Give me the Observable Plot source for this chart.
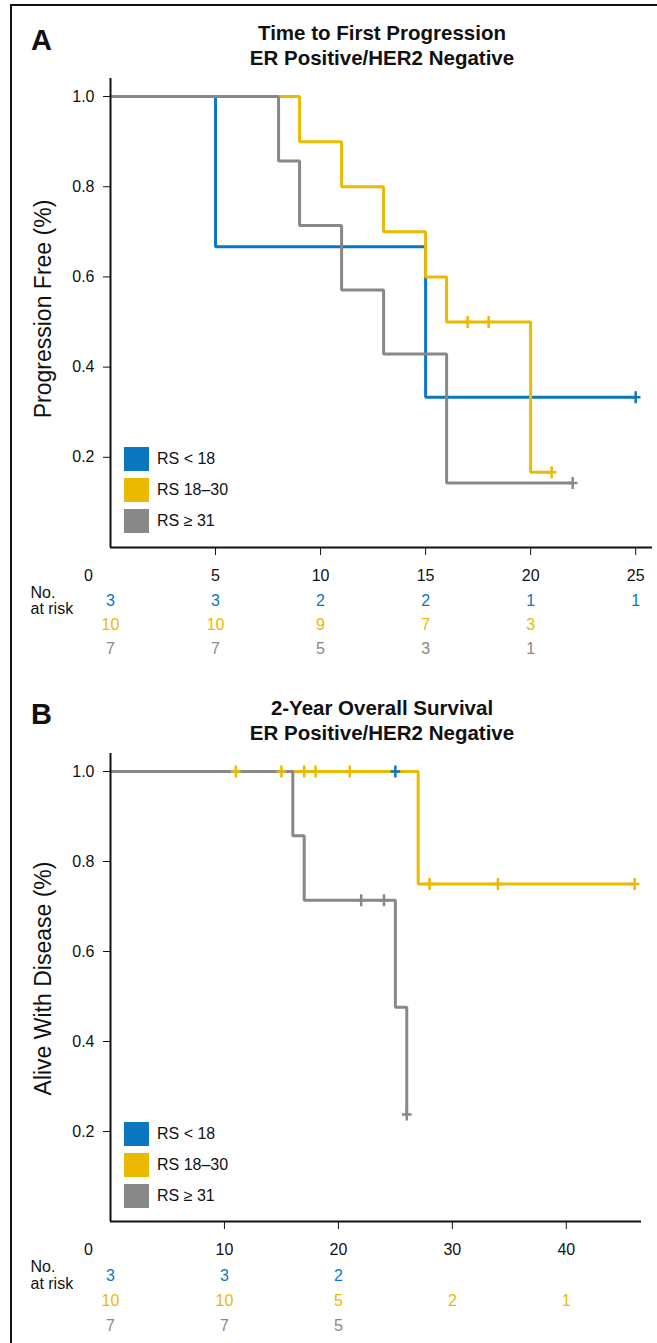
<!DOCTYPE html>
<html>
<head>
<meta charset="utf-8">
<script src="https://cdn.jsdelivr.net/npm/d3@7"></script>
<script src="https://cdn.jsdelivr.net/npm/@observablehq/plot@0.6"></script>
<style>
  body { margin: 0; background: #fff; }
  #root { position: relative; width: 657px; height: 1343px; overflow: hidden; font-family: "Liberation Sans", Arial, Helvetica, sans-serif; color: #111; }
  .frame { position: absolute; left: 10px; top: 4px; right: -10px; bottom: -10px; border-top: 2px solid #111; border-left: 2px solid #111; }
  .panel-letter { position: absolute; font-weight: bold; font-size: 29px; line-height: 29px; }
  .title { position: absolute; left: 132px; width: 500px; text-align: center; font-weight: bold; font-size: 20.5px; line-height: 25px; }
  .chart { position: absolute; left: 0; }
  .legend { position: absolute; left: 124px; font-size: 16px; }
  .legend .item { position: absolute; left: 0; height: 24px; white-space: nowrap; }
  .legend .sw { position: absolute; left: 0; top: 0; width: 25px; height: 24px; }
  .legend .lab { position: absolute; left: 33px; top: 0; line-height: 24px; }
</style>
</head>
<body>
<div id="root">
  <div class="frame"></div>
  <div class="panel-letter" style="left:31px;top:26px;">A</div>
  <div class="title" style="top:20px;">Time to First Progression<br>ER Positive/HER2 Negative</div>
  <div class="chart" id="chartA" style="top:70px;"></div>
  <div class="legend" id="legendA" style="top:447px;"></div>
  <div class="panel-letter" style="left:31px;top:700px;">B</div>
  <div class="title" style="top:695px;">2-Year Overall Survival<br>ER Positive/HER2 Negative</div>
  <div class="chart" id="chartB" style="top:740px;"></div>
  <div class="legend" id="legendB" style="top:1122px;"></div>
</div>
<script>
// ---------- shared ----------
const groups = ["RS < 18", "RS 18–30", "RS ≥ 31"];
const colors = ["#0a77c0", "#ebba00", "#888888"];
const yTicks = [0.2, 0.4, 0.6, 0.8, 1.0];

// ---------- Panel A: Time to First Progression ----------
const aBlueTime = [0, 5, 15, 25];
const aBlueSurv = [1, 0.667, 0.333, 0.333];
const aYellowTime = [0, 9, 11, 13, 15, 16, 20, 21];
const aYellowSurv = [1, 0.9, 0.8, 0.7, 0.6, 0.5, 0.167, 0.167];
const aGrayTime = [0, 8, 9, 11, 13, 16, 22];
const aGraySurv = [1, 0.857, 0.714, 0.571, 0.429, 0.143, 0.143];
const aBlueCensorTime = [25];
const aBlueCensorSurv = [0.333];
const aYellowCensorTime = [17, 18, 21];
const aYellowCensorSurv = [0.5, 0.5, 0.167];
const aGrayCensorTime = [22];
const aGrayCensorSurv = [0.143];
const aXTicks = [0, 5, 10, 15, 20, 25];
const aRiskBlue = [3, 3, 2, 2, 1, 1];
const aRiskYellow = [10, 10, 9, 7, 3, null];
const aRiskGray = [7, 7, 5, 3, 1, null];

// ---------- Panel B: 2-Year Overall Survival ----------
const bBlueTime = [0, 25];
const bBlueSurv = [1, 1];
const bYellowTime = [0, 27, 46];
const bYellowSurv = [1, 0.75, 0.75];
const bGrayTime = [0, 16, 17, 25, 26];
const bGraySurv = [1, 0.857, 0.714, 0.476, 0.238];
const bBlueCensorTime = [25];
const bBlueCensorSurv = [1];
const bYellowCensorTime = [11, 15, 17, 18, 21, 28, 34, 46];
const bYellowCensorSurv = [1, 1, 1, 1, 1, 0.75, 0.75, 0.75];
const bGrayCensorTime = [22, 24, 26];
const bGrayCensorSurv = [0.714, 0.714, 0.238];
const bXTicks = [0, 10, 20, 30, 40];
const bRiskBlue = [3, 3, 2, null, null];
const bRiskYellow = [10, 10, 5, 2, 1];
const bRiskGray = [7, 7, 5, null, null];

const zip = (t, s, g) => t.map((x, i) => ({time: x, surv: s[i], group: g}));
const risk = (ticks, vals, g) => ticks.map((x, i) => ({time: x, n: vals[i], group: g})).filter(d => d.n != null);

// censor mark: a small "+" (vertical arm longer than horizontal)
const censorSymbol = {
  draw(context, size) {
    const r = Math.sqrt(size / Math.PI);
    context.moveTo(0, -r);
    context.lineTo(0, r);
    context.moveTo(-r * 0.8, 0);
    context.lineTo(r * 0.8, 0);
  }
};

const FONT = '"Liberation Sans", Arial, Helvetica, sans-serif';

function chart(cfg) {
  const lines = cfg.series.map((s, i) => zip(s[0], s[1], groups[i]));
  const censors = cfg.censors.map((s, i) => zip(s[0], s[1], groups[i]));
  const risks = cfg.risk.map((r, i) => risk(cfg.xTicks, r, groups[i]));
  const marks = [];
  lines.forEach((d, i) => marks.push(Plot.line(d, {x: "time", y: "surv", curve: "step-after", stroke: colors[i], strokeWidth: 3, strokeLinejoin: "miter", strokeLinecap: "butt"})));
  censors.forEach((d, i) => marks.push(Plot.dot(d, {x: "time", y: "surv", symbol: censorSymbol, r: 6, stroke: colors[i], strokeWidth: 2.5, fill: "none"})));
  // axis lines
  marks.push(Plot.ruleY([0], {stroke: "#111", strokeWidth: 2}));
  marks.push(Plot.ruleX([0], {stroke: "#111", strokeWidth: 2}));
  marks.push(Plot.axisY({ticks: yTicks, tickFormat: d3.format(".1f"), tickSize: 7, tickPadding: 9, fontSize: 16, label: null, stroke: "#111", fill: "#111"}));
  marks.push(Plot.axisX({ticks: cfg.xTicks.filter(t => t > 0), tickSize: 8, tickFormat: () => "", label: null, stroke: "#111"}));
  // tick labels
  const common = {frameAnchor: "bottom", lineAnchor: "middle", fontSize: 16};
  marks.push(Plot.text(cfg.xTicks.filter(t => t > 0), {...common, x: d => d, dy: cfg.dy.label, textAnchor: "middle", fill: "#111"}));
  marks.push(Plot.text([0], {...common, x: d => d, dy: cfg.dy.label, dx: -22, textAnchor: "middle", fill: "#111"}));
  // at risk header
  marks.push(Plot.text(["No."], {...common, x: () => 0, dy: cfg.dy.no, dx: -80, textAnchor: "start", fill: "#111"}));
  marks.push(Plot.text(["at risk"], {...common, x: () => 0, dy: cfg.dy.atrisk, dx: -80, textAnchor: "start", fill: "#111"}));
  risks.forEach((d, i) => marks.push(Plot.text(d, {...common, x: "time", text: "n", dy: cfg.dy.rows[i], textAnchor: "middle", fill: colors[i]})));
  // y title
  marks.push(Plot.text([cfg.yTitle], {frameAnchor: "left", textAnchor: "middle", lineAnchor: "middle", rotate: -90, dx: -67, dy: cfg.titleDy, fontSize: 23, fill: "#111"}));
  return Plot.plot({
    width: 657,
    height: cfg.height,
    marginLeft: 110,
    marginRight: cfg.marginRight,
    marginTop: cfg.marginTop,
    marginBottom: cfg.marginBottom,
    x: {domain: cfg.xDomain},
    y: {domain: [0, 1.04]},
    style: {fontFamily: FONT, background: "transparent", overflow: "visible", color: "#111"},
    marks
  });
}

document.getElementById("chartA").appendChild(chart({
  series: [[aBlueTime, aBlueSurv], [aYellowTime, aYellowSurv], [aGrayTime, aGraySurv]],
  censors: [[aBlueCensorTime, aBlueCensorSurv], [aYellowCensorTime, aYellowCensorSurv], [aGrayCensorTime, aGrayCensorSurv]],
  risk: [aRiskBlue, aRiskYellow, aRiskGray],
  xTicks: aXTicks,
  xDomain: [0, 25.8],
  height: 600, marginTop: 8, marginBottom: 123, marginRight: 5,
  dy: {label: 28, no: 45, atrisk: 61, rows: [53, 77, 101]},
  titleDy: -4,
  yTitle: "Progression Free (%)"
}));

document.getElementById("chartB").appendChild(chart({
  series: [[bBlueTime, bBlueSurv], [bYellowTime, bYellowSurv], [bGrayTime, bGraySurv]],
  censors: [[bBlueCensorTime, bBlueCensorSurv], [bYellowCensorTime, bYellowCensorSurv], [bGrayCensorTime, bGrayCensorSurv]],
  risk: [bRiskBlue, bRiskYellow, bRiskGray],
  xTicks: bXTicks,
  xDomain: [0, 46.6],
  height: 603, marginTop: 13, marginBottom: 122, marginRight: 16,
  dy: {label: 28, no: 45, atrisk: 62, rows: [54, 79, 104]},
  titleDy: -9,
  yTitle: "Alive With Disease (%)"
}));

function legend(id) {
  const el = document.getElementById(id);
  groups.forEach((g, i) => {
    const item = document.createElement("div");
    item.className = "item";
    item.style.top = (31 * i) + "px";
    const sw = document.createElement("div");
    sw.className = "sw";
    sw.style.background = colors[i];
    const lab = document.createElement("div");
    lab.className = "lab";
    lab.textContent = g;
    item.appendChild(sw);
    item.appendChild(lab);
    el.appendChild(item);
  });
}
legend("legendA");
legend("legendB");
</script>
</body>
</html>
